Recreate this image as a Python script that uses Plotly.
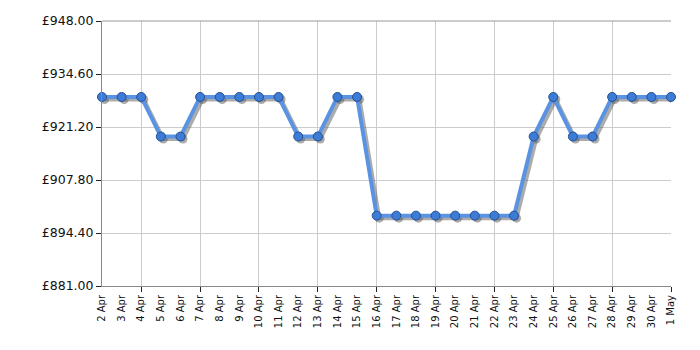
import plotly.graph_objects as go

dates = ["2 Apr", "3 Apr", "4 Apr", "5 Apr", "6 Apr", "7 Apr", "8 Apr", "9 Apr", "10 Apr",
         "11 Apr", "12 Apr", "13 Apr", "14 Apr", "15 Apr", "16 Apr", "17 Apr", "18 Apr",
         "19 Apr", "20 Apr", "21 Apr", "22 Apr", "23 Apr", "24 Apr", "25 Apr", "26 Apr",
         "27 Apr", "28 Apr", "29 Apr", "30 Apr", "1 May"]
prices = [928.79, 928.79, 928.79, 918.79, 918.79, 928.79, 928.79, 928.79, 928.79,
          928.79, 918.79, 918.79, 928.79, 928.79, 898.79, 898.79, 898.79,
          898.79, 898.79, 898.79, 898.79, 898.79, 918.79, 928.79, 918.79,
          918.79, 928.79, 928.79, 928.79, 928.79]
y_ticks = [881.0, 894.4, 907.8, 921.2, 934.6, 948.0]
y_min, y_max = 881.0, 948.0

idx = list(range(len(dates)))
grid_idx = idx[2::3]

W, H = 700, 350
# page body adds 8px offset; margins compensate so plot sits at x 102-671, y 21-286
ml, mr, mt, mb = 94, 37, 13, 72
pw, ph = W - ml - mr, H - mt - mb
dx = (len(dates) - 1) / pw * 2.5    # shadow offset in x units
dy = (y_max - y_min) / ph * 2.5     # shadow offset in y units

font = "DejaVu Sans, Verdana, sans-serif"

fig = go.Figure()
# shadow (base subplot, beneath)
fig.add_trace(go.Scatter(
    x=idx, y=prices, mode="lines+markers",
    line=dict(color="rgba(90,90,90,0.5)", width=4),
    marker=dict(size=9, color="rgba(90,90,90,0.5)"),
    hoverinfo="skip", showlegend=False))
# main (overlay subplot, on top)
fig.add_trace(go.Scatter(
    x=idx, y=prices, xaxis="x2", yaxis="y2", mode="lines+markers",
    line=dict(color="#5b93e3", width=4),
    marker=dict(size=9, color="#3c7bd6", line=dict(color="#24508f", width=1)),
    showlegend=False, cliponaxis=False))

fig.update_layout(
    width=W, height=H,
    margin=dict(l=ml, r=mr, t=mt, b=mb, autoexpand=False),
    paper_bgcolor="white", plot_bgcolor="white",
    font=dict(family=font, color="#111"),
    xaxis=dict(range=[-dx, len(dates) - 1 - dx], tickmode="array",
               tickvals=[g - dx for g in grid_idx],
               showticklabels=False, ticks="outside", ticklen=5, tickcolor="#222",
               showgrid=True, gridcolor="#cccccc", gridwidth=1,
               showline=False, zeroline=False, automargin=False),
    xaxis2=dict(range=[0, len(dates) - 1], overlaying="x", visible=False),
    xaxis3=dict(range=[0, len(dates) - 1], overlaying="x", tickmode="array",
                tickvals=idx, ticktext=dates, tickangle=-90, ticks="",
                ticklabelstandoff=4,
                showgrid=False, zeroline=False, showline=True, linecolor="#888888",
                linewidth=1, automargin=False,
                tickfont=dict(size=10, family=font, color="#111"), anchor="y"),
    yaxis=dict(range=[y_min + dy, y_max + dy], tickmode="array",
               tickvals=[v + dy for v in y_ticks],
               ticktext=["£%.2f" % v for v in y_ticks],
               ticks="outside", ticklen=5, tickcolor="#222",
               showgrid=True, gridcolor="#cccccc", gridwidth=1,
               showline=False, zeroline=False, automargin=False,
               tickfont=dict(size=12.5, family=font, color="#111")),
    yaxis2=dict(range=[y_min, y_max], overlaying="y", visible=True,
                showticklabels=False, ticks="", showgrid=False, zeroline=False,
                showline=True, linecolor="#888888", linewidth=1),
)
fig.add_trace(go.Scatter(x=[0], y=[y_min], xaxis="x3", yaxis="y2", mode="markers",
                         marker=dict(opacity=0), hoverinfo="skip", showlegend=False))
fig.add_shape(type="line", xref="paper", yref="paper", x0=0, x1=1, y0=1, y1=1,
              line=dict(color="#999999", width=1))

fig.write_html("out.html")
